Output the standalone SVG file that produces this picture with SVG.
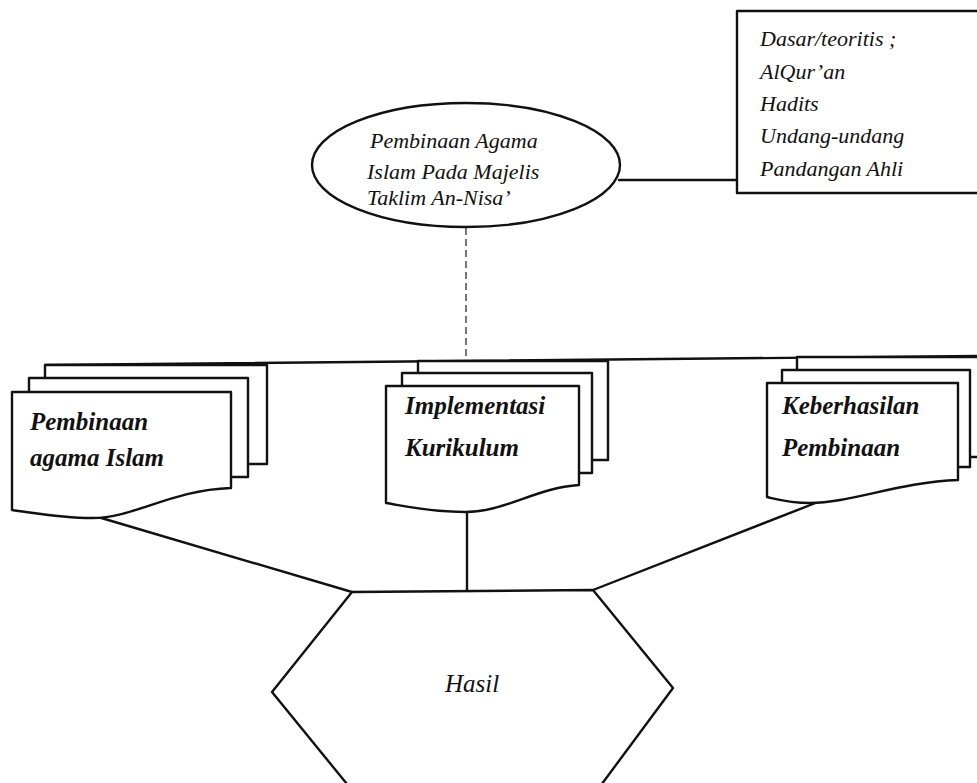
<svg xmlns="http://www.w3.org/2000/svg" width="977" height="783" viewBox="0 0 977 783">
<style>
.ln{fill:none;stroke:#111;stroke-width:2.4;stroke-linejoin:round;stroke-linecap:round}
.sh{fill:#fff;stroke:#111;stroke-width:2.4;stroke-linejoin:round}
.dash{fill:none;stroke:#555;stroke-width:1.6;stroke-dasharray:7 4}
.t{font-family:"Liberation Serif","Times New Roman",serif;font-style:italic;font-size:22px;fill:#111}
.tb{font-family:"Liberation Serif","Times New Roman",serif;font-style:italic;font-weight:bold;font-size:25px;fill:#111}
</style>
<rect width="977" height="783" fill="#fff"/>
<g id="connectors">
  <line class="ln" x1="619" y1="180" x2="737" y2="180"/>
  <line class="dash" x1="466" y1="228" x2="466" y2="362"/>
  <line class="ln" x1="45" y1="365" x2="977" y2="356"/>
  <line class="ln" x1="98" y1="517" x2="352" y2="592"/>
  <line class="ln" x1="467" y1="512" x2="467" y2="591"/>
  <line class="ln" x1="818" y1="502" x2="593" y2="590"/>
</g>
<g id="basis">
  <rect class="sh" x="737" y="11" width="260" height="182"/>
  <text class="t" x="760" y="46">Dasar/teoritis ;</text>
  <text class="t" x="760" y="79">AlQur’an</text>
  <text class="t" x="760" y="111">Hadits</text>
  <text class="t" x="760" y="143">Undang-undang</text>
  <text class="t" x="760" y="176">Pandangan Ahli</text>
</g>
<g id="main">
  <ellipse class="sh" cx="466" cy="165" rx="154" ry="62"/>
  <text class="t" x="370" y="148">Pembinaan Agama</text>
  <text class="t" x="367" y="179">Islam Pada Majelis</text>
  <text class="t" x="367" y="205">Taklim An-Nisa’</text>
</g>
<g id="doc-pembinaan">
  <rect class="sh" x="45" y="365" width="222" height="99"/>
  <rect class="sh" x="29" y="378" width="219" height="99"/>
  <path class="sh" d="M12,392 H231 V488 C170,490 135,518 92,518 C60,518 35,513 12,510 Z"/>
  <text class="tb" x="30" y="430">Pembinaan</text>
  <text class="tb" x="30" y="466">agama Islam</text>
</g>
<g id="doc-implementasi">
  <rect class="sh" x="418" y="361" width="190" height="99"/>
  <rect class="sh" x="402" y="373" width="190" height="100"/>
  <path class="sh" d="M386,386 H579 V485 C535,488 505,512 465,512 C430,512 405,506 386,503 Z"/>
  <text class="tb" x="405" y="414">Implementasi</text>
  <text class="tb" x="405" y="456">Kurikulum</text>
</g>
<g id="doc-keberhasilan">
  <rect class="sh" x="797" y="357" width="200" height="100"/>
  <rect class="sh" x="782" y="370" width="188" height="97"/>
  <path class="sh" d="M767,383 H958 V480 C900,482 850,503 810,503 C790,503 780,500 767,497 Z"/>
  <text class="tb" x="782" y="414">Keberhasilan</text>
  <text class="tb" x="782" y="456">Pembinaan</text>
</g>
<g id="hasil">
  <polygon class="sh" points="352,592 593,590 673,688 590,800 360,800 272,692"/>
  <text class="t" x="472" y="692" text-anchor="middle" style="font-size:25px">Hasil</text>
</g>
</svg>
